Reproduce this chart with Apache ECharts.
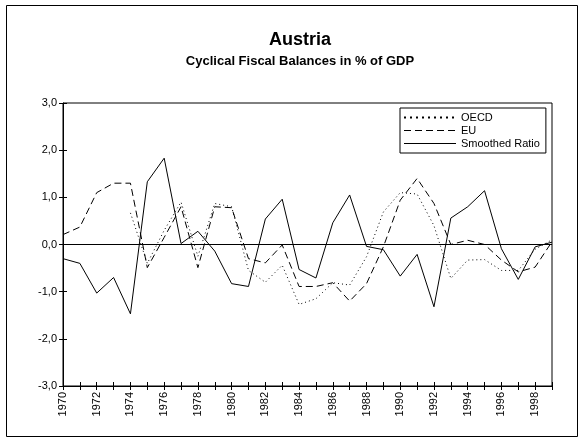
<!DOCTYPE html>
<html>
<head>
<meta charset="utf-8">
<script src="https://cdn.jsdelivr.net/npm/echarts@6/dist/echarts.min.js"></script>
<style>
html,body{margin:0;padding:0;background:#fff;}
#chart{width:583px;height:441px;}
</style>
</head>
<body>
<div id="chart"></div>
<script>
// years on the x axis
var years = [];
for (var y = 1970; y <= 1999; y++) { years.push(String(y)); }
// series values, % of GDP
var oecd = [null,null,null,null,0.67,-0.40,0.30,0.90,-0.25,0.87,0.80,-0.55,-0.80,-0.44,-1.27,-1.15,-0.81,-0.86,-0.26,0.69,1.10,1.07,0.40,-0.72,-0.33,-0.32,-0.55,-0.55,-0.10,0.10];
var eu = [0.21,0.37,1.10,1.30,1.30,-0.49,0.15,0.80,-0.49,0.80,0.78,-0.30,-0.39,-0.01,-0.89,-0.89,-0.81,-1.20,-0.83,-0.05,0.94,1.40,0.87,0.00,0.09,0.00,-0.33,-0.58,-0.48,0.06];
var smoothed = [-0.30,-0.40,-1.03,-0.70,-1.47,1.33,1.83,0.02,0.28,-0.14,-0.83,-0.89,0.54,0.96,-0.53,-0.71,0.46,1.05,-0.04,-0.11,-0.67,-0.21,-1.32,0.56,0.80,1.14,-0.09,-0.74,-0.05,0.05];
var seriesNames = ['OECD','EU','Smoothed Ratio'];

var font = 'Liberation Sans, Arial, sans-serif';
var chart = echarts.init(document.getElementById('chart'));

function yLabel(v) {
    return v.toFixed(1).replace('.', ',');
}

var option = {
    animation: false,
    backgroundColor: '#fff',
    graphic: [{
        type: 'rect',
        shape: {x: 6.5, y: 5.5, width: 571, height: 431},
        style: {fill: 'none', stroke: '#000', lineWidth: 1}
    }],
    title: {
        text: 'Austria',
        subtext: 'Cyclical Fiscal Balances in % of GDP',
        left: 295,
        top: 26,
        textAlign: 'center',
        itemGap: 6,
        textStyle: {fontFamily: font, fontSize: 18, fontWeight: 'bold', color: '#000'},
        subtextStyle: {fontFamily: font, fontSize: 13, fontWeight: 'bold', color: '#000'}
    },
    legend: {
        data: [
            {name: seriesNames[0], lineStyle: {width: 2, type: [2, 4]}},
            {name: seriesNames[1]},
            {name: seriesNames[2]}
        ],
        orient: 'vertical',
        left: 400,
        top: 108,
        itemWidth: 52,
        itemHeight: 12,
        itemGap: 2,
        padding: [4, 6, 4, 3],
        borderColor: '#000',
        borderWidth: 1,
        itemStyle: {opacity: 0},
        lineStyle: {width: 1},
        textStyle: {fontFamily: font, fontSize: 11, color: '#000'}
    },
    grid: {
        left: 63,
        right: 31,
        top: 103,
        bottom: 55,
        show: true,
        borderColor: '#000',
        borderWidth: 1
    },
    xAxis: [{
        type: 'category',
        data: years,
        boundaryGap: false,
        axisLine: {onZero: false, lineStyle: {color: '#000', width: 1}},
        axisTick: {show: true, interval: 0, length: 4, lineStyle: {color: '#000'}},
        axisLabel: {
            interval: 1,
            rotate: 90,
            margin: 6,
            fontFamily: font,
            fontSize: 11,
            color: '#000'
        },
        splitLine: {show: false}
    }, {
        // inner half of the crossing ticks
        type: 'category',
        data: years,
        position: 'bottom',
        boundaryGap: false,
        axisLine: {show: false, onZero: false},
        axisTick: {show: true, inside: true, interval: 0, length: 4, lineStyle: {color: '#000'}},
        axisLabel: {show: false},
        splitLine: {show: false}
    }],
    yAxis: [{
        type: 'value',
        min: -3,
        max: 3,
        interval: 1,
        axisLine: {show: true, onZero: false, lineStyle: {color: '#000', width: 1}},
        axisTick: {show: true, length: 4, lineStyle: {color: '#000'}},
        axisLabel: {
            formatter: yLabel,
            margin: 6,
            fontFamily: font,
            fontSize: 11,
            color: '#000'
        },
        splitLine: {show: false}
    }, {
        type: 'value',
        min: -3,
        max: 3,
        interval: 1,
        position: 'left',
        axisLine: {show: false, onZero: false},
        axisTick: {show: true, inside: true, length: 4, lineStyle: {color: '#000'}},
        axisLabel: {show: false},
        splitLine: {show: false}
    }],
    series: [{
        name: 'OECD',
        type: 'line',
        data: oecd,
        symbol: 'none',
        lineStyle: {color: '#000', width: 1, type: [1, 3]},
        itemStyle: {color: '#000'},
        markLine: {
            silent: true,
            symbol: 'none',
            label: {show: false},
            lineStyle: {color: '#000', width: 1, type: 'solid'},
            data: [{yAxis: 0}]
        }
    }, {
        name: 'EU',
        type: 'line',
        data: eu,
        symbol: 'none',
        lineStyle: {color: '#000', width: 1, type: [7, 4]},
        itemStyle: {color: '#000'}
    }, {
        name: 'Smoothed Ratio',
        type: 'line',
        data: smoothed,
        symbol: 'none',
        lineStyle: {color: '#000', width: 1, type: 'solid'},
        itemStyle: {color: '#000'}
    }]
};
chart.setOption(option);
</script>
</body>
</html>
